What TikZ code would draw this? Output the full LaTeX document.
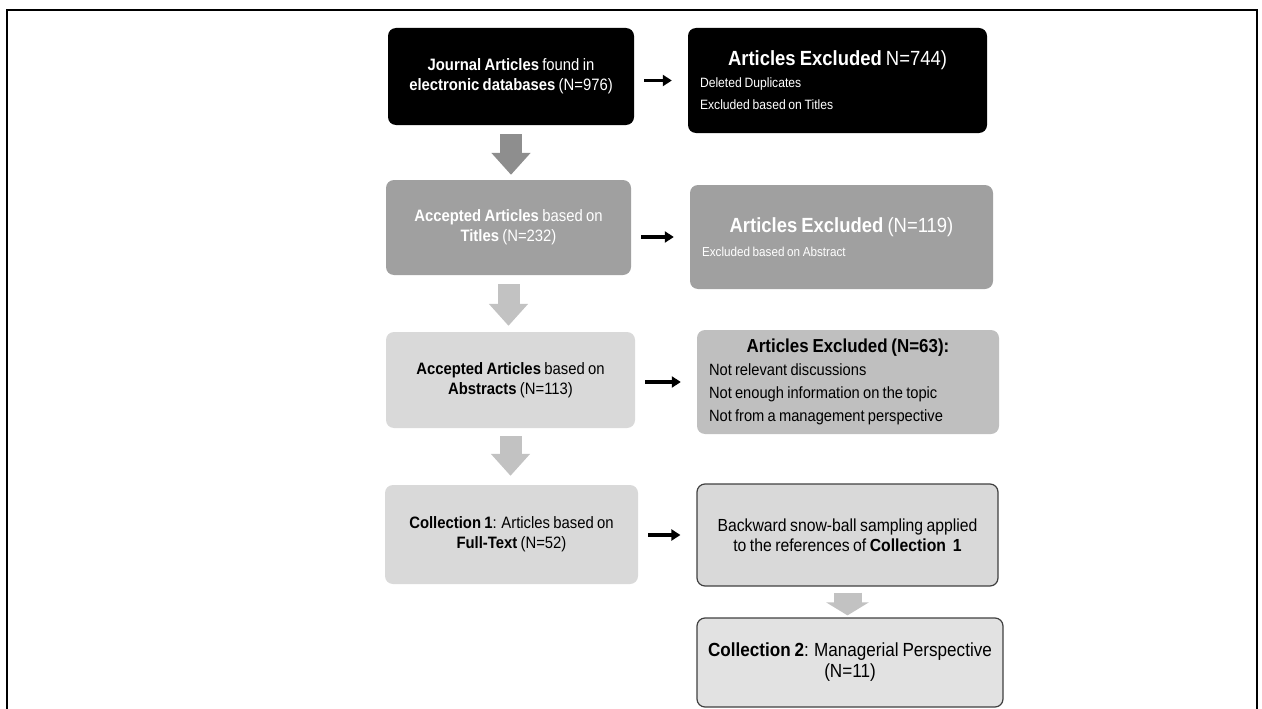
\documentclass[tikz,border=0pt]{standalone}
\usepackage{fontspec}
\setmainfont{Liberation Sans}[FakeStretch=0.9, WordSpace=0.8]
\usetikzlibrary{arrows.meta}

\definecolor{boxdark}{HTML}{A0A0A0}
\definecolor{boxmid}{HTML}{BFBFBF}
\definecolor{boxlight}{HTML}{D9D9D9}
\definecolor{boxpale}{HTML}{E2E2E2}
\definecolor{arrowdark}{HTML}{8E8E8E}
\definecolor{arrowlight}{HTML}{C2C2C2}

% centred heading line of an exclusion box
\newcommand{\exhead}[2]{{\fontsize{#1}{#1}\selectfont\makebox[\hsize]{#2}\par}}

\begin{document}
\begin{tikzpicture}[x=1pt,y=-1pt,
  stagebox/.style={rounded corners=8pt, inner sep=0pt, align=center,
    font=\fontsize{16.5}{20}\selectfont},
  exbox/.style={rounded corners=8pt, inner xsep=12pt, inner ysep=0pt, align=flush left},
  sidearrow/.style={line width=3.5pt, -{Triangle[length=9pt,width=11pt]},
    shorten <=10pt, shorten >=16pt},
  downarrow/.style={line width=22pt, -{Triangle[length=22pt,width=38pt]}}
]
\useasboundingbox (0,0) rectangle (1262,709);
\draw [line width=2.5pt] (7,712) -- (7,10) -- (1257,10) -- (1257,712);

% left column
\node [stagebox, fill=black, text=white, minimum width=246pt, minimum height=97pt]
  (jour) at (511,76.5) {\textbf{Journal Articles} found in\\ \textbf{electronic databases} (N=976)};
\node [stagebox, fill=boxdark, text=white, minimum width=245pt, minimum height=95pt]
  (acct) at (508.5,227.5) {\textbf{Accepted Articles} based on\\ \textbf{Titles} (N=232)};
\node [stagebox, fill=boxlight, minimum width=249pt, minimum height=96pt]
  (acca) at (510.5,380) {\textbf{Accepted Articles} based on\\ \textbf{Abstracts} (N=113)};
\node [stagebox, fill=boxlight, minimum width=253pt, minimum height=99pt]
  (coll) at (511.5,534.5) {\textbf{Collection 1}: Articles based on\\ \textbf{Full-Text} (N=52)};

% right column
\node [exbox, fill=black, text=white, text width=275pt, minimum width=299pt, minimum height=105pt,
  font=\fontsize{13.5}{22}\selectfont]
  (exdup) at (837.5,80.5) {\exhead{20.5}{\textbf{Articles Excluded} N=744)}
  Deleted Duplicates\par Excluded based on Titles};
\node [exbox, fill=boxdark, text=white, text width=279pt, minimum width=303pt, minimum height=104pt,
  font=\fontsize{13}{24}\selectfont]
  (exabs) at (841.5,237) {\exhead{20.5}{\textbf{Articles Excluded} (N=119)}
  Excluded based on Abstract};
\node [exbox, fill=boxmid, text width=278pt, minimum width=302pt, minimum height=104pt,
  font=\fontsize{16.3}{23}\selectfont]
  (exfull) at (848,382) {\exhead{18.8}{\textbf{Articles Excluded (N=63):}}
  Not relevant discussions\par Not enough information on the topic\par
  Not from a management perspective};
\node [stagebox, fill=boxlight, draw=black!75, line width=1.2pt, minimum width=301pt,
  minimum height=102pt, font=\fontsize{17.5}{20.5}\selectfont]
  (snow) at (847.5,535) {Backward snow-ball sampling applied\\ to the references of \textbf{Collection\ \ 1}};
\node [stagebox, fill=boxpale, draw=black!75, line width=1.2pt, minimum width=306pt,
  minimum height=89pt, font=\fontsize{19}{21}\selectfont]
  (mgr) at (850,662.5) {\textbf{Collection 2}: Managerial Perspective\\ (N=11)};

% arrows
\draw [downarrow, draw=arrowdark, shorten <=9pt, shorten >=5pt] (jour.south) -- (jour.south |- acct.north);
\draw [downarrow, draw=arrowlight, shorten <=9pt, shorten >=6pt] (acct.south) -- (acct.south |- acca.north);
\draw [downarrow, draw=arrowlight, shorten <=8pt, shorten >=9pt] (acca.south) -- (acca.south |- coll.north);
\draw [line width=28pt, draw=arrowlight, -{Triangle[length=13pt,width=42pt]}, shorten <=6pt, shorten >=2pt]
  (snow.south) -- (snow.south |- mgr.north);
\draw [sidearrow] (exdup.west -| jour.east) -- (exdup.west);
\draw [sidearrow] (exabs.west -| acct.east) -- (exabs.west);
\draw [sidearrow] (exfull.west -| acca.east) -- (exfull.west);
\draw [sidearrow] (snow.west -| coll.east) -- (snow.west);
\end{tikzpicture}
\end{document}
